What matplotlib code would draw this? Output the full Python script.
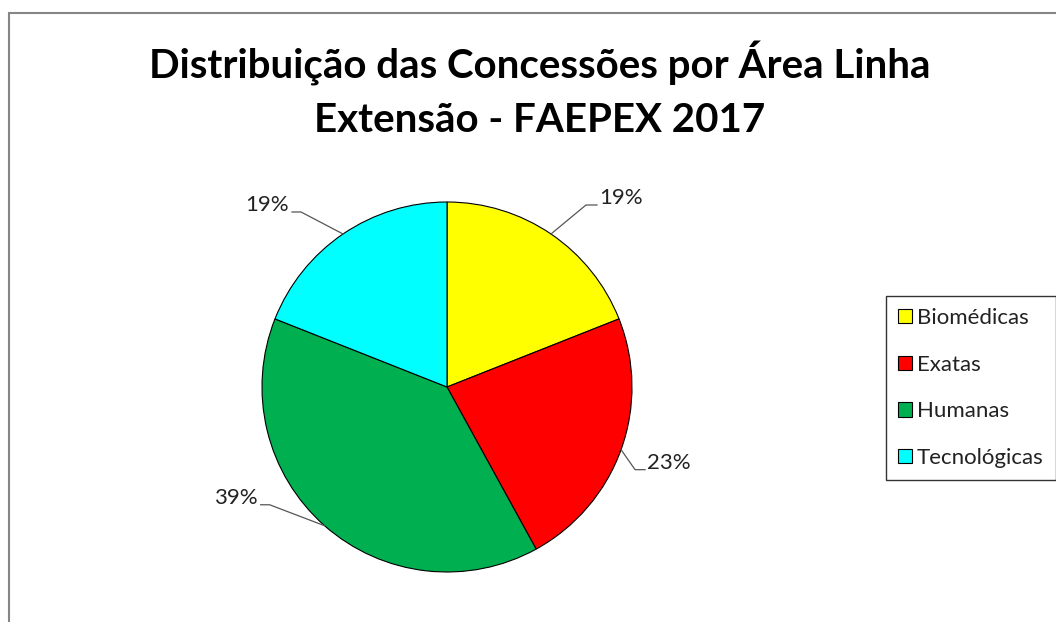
import numpy as np
import matplotlib
matplotlib.use('Agg')
import matplotlib.pyplot as plt
from matplotlib.patches import Rectangle

plt.rcParams['font.family'] = ['Lato', 'DejaVu Sans']

# data
areas = ['Biomédicas', 'Exatas', 'Humanas', 'Tecnológicas']
shares = [19, 23, 39, 19]
colors = ['#FFFF00', '#FF0000', '#00B050', '#00FFFF']
title = 'Distribuição das Concessões por Área Linha\nExtensão - FAEPEX 2017'

# label leader layout (pixels): elbow offset from arc point, horizontal run
leaders = [(35, 29, 11), (14, -20, 10), (-55, 21, -9), (-42, 22, -9)]

W, H = 1056, 622
fig = plt.figure(figsize=(W / 100, H / 100), dpi=100)
ax = fig.add_axes([0, 0, 1, 1])

cx, cy, r = 447, H - 387, 185
wedges, _ = ax.pie(shares, colors=colors, startangle=90, counterclock=False,
                   center=(cx, cy), radius=r,
                   wedgeprops=dict(edgecolor='black', linewidth=0.8))
ax.set_xlim(0, W)
ax.set_ylim(0, H)
ax.set_aspect('equal')
ax.axis('off')

for w, s, (dx, dy, run) in zip(wedges, shares, leaders):
    mid = np.deg2rad((w.theta1 + w.theta2) / 2)
    x0, y0 = cx + r * np.cos(mid), cy + r * np.sin(mid)
    x1, y1 = x0 + dx, y0 + dy
    x2 = x1 + run
    ax.plot([x0, x1, x2], [y0, y1, y1], color='#555555', lw=0.9)
    if run > 0:
        ax.text(x2 + 2, y1 + 7, f'{s}%', ha='left', va='center',
                fontsize=16, color='#222222')
    else:
        ax.text(x2 - 3, y1 + 7, f'{s}%', ha='right', va='center',
                fontsize=16, color='#222222')

fig.text(540 / W, 1 - 90 / H, title, ha='center', va='center',
         fontsize=29, fontweight='bold', linespacing=1.55)

leg = fig.legend(wedges, areas, loc='center left',
                 bbox_to_anchor=(886 / W, 1 - 388 / H),
                 fontsize=16, frameon=True, fancybox=False,
                 edgecolor='black', handlelength=0.6, handleheight=0.6,
                 handletextpad=0.25, labelspacing=1.2, borderpad=0.55,
                 borderaxespad=0)
leg.get_frame().set_linewidth(1.0)
for t in leg.get_texts():
    t.set_color('#222222')

# outer chart border
fig.add_artist(Rectangle((9 / W, -0.1), 1.2, 1 - 13 / H + 0.1,
                         transform=fig.transFigure, fill=False,
                         edgecolor='#868686', lw=1.5))

fig.savefig('out.png', dpi=100)
